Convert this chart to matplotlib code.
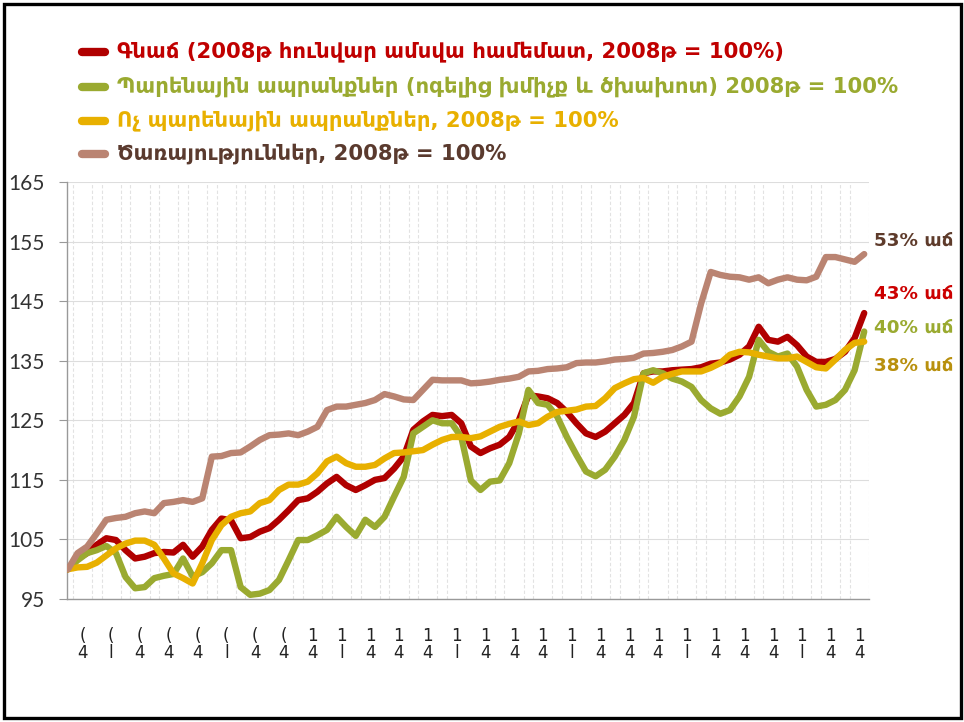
import matplotlib
matplotlib.use("Agg")
import matplotlib.pyplot as plt
from matplotlib.lines import Line2D
from matplotlib.patches import Rectangle
import numpy as np

# monthly indices, January 2008 = 100
total = [100.0, 101.8, 102.7, 104.1, 105.2, 104.9, 103.2, 101.8, 102.1, 102.7,
         102.9, 102.8, 104.1, 102.1, 103.8, 106.6, 108.5, 108.2, 105.2, 105.4,
         106.3, 106.9, 108.3, 109.9, 111.6, 111.9, 113.0, 114.4, 115.5, 114.1,
         113.3, 114.1, 115.0, 115.3, 116.9, 118.9, 123.4, 124.8, 125.9, 125.7,
         125.9, 124.5, 120.6, 119.5, 120.3, 120.9, 122.2, 125.0, 129.2, 129.0,
         128.7, 127.9, 126.4, 124.5, 122.8, 122.2, 123.1, 124.5, 125.9, 127.9,
         132.9, 133.2, 133.2, 133.4, 133.5, 133.6, 133.9, 134.5, 134.7, 135.2,
         136.0, 137.4, 140.7, 138.5, 138.2, 139.0, 137.6, 135.7, 134.8, 134.8,
         135.3, 136.5, 138.8, 143.0]
food = [100.0, 101.5, 102.7, 103.2, 103.9, 102.7, 98.7, 96.8, 97.0, 98.5,
        98.9, 99.2, 101.8, 98.8, 99.5, 101.0, 103.2, 103.2, 97.0, 95.7,
        95.9, 96.5, 98.2, 101.5, 104.9, 104.9, 105.7, 106.6, 108.8, 107.1,
        105.6, 108.3, 107.1, 108.8, 112.2, 115.5, 122.8, 123.9, 125.0, 124.5,
        124.5, 122.2, 114.9, 113.3, 114.7, 114.9, 117.8, 122.8, 130.1, 127.9,
        127.6, 125.6, 122.2, 119.2, 116.4, 115.6, 116.7, 118.9, 121.7, 125.6,
        132.9, 133.4, 132.9, 132.0, 131.5, 130.6, 128.4, 127.0, 126.1, 126.7,
        129.0, 132.3, 138.5, 136.5, 135.7, 136.2, 134.0, 130.1, 127.3, 127.6,
        128.4, 130.1, 133.4, 139.9]
nonfood = [100.0, 100.3, 100.4, 101.1, 102.3, 103.5, 104.3, 104.8, 104.8, 104.1,
           101.8, 99.3, 98.5, 97.6, 101.0, 104.9, 107.4, 108.8, 109.4, 109.7,
           111.1, 111.6, 113.3, 114.2, 114.2, 114.7, 116.1, 118.1, 118.9, 117.8,
           117.2, 117.2, 117.5, 118.6, 119.5, 119.6, 119.8, 120.0, 120.9, 121.7,
           122.2, 122.2, 122.0, 122.3, 123.1, 123.9, 124.4, 124.8, 124.2, 124.5,
           125.6, 126.4, 126.6, 126.8, 127.3, 127.4, 128.7, 130.4, 131.2, 131.9,
           132.1, 131.3, 132.3, 132.8, 133.2, 133.2, 133.2, 133.8, 134.6, 136.0,
           136.5, 136.4, 136.0, 135.7, 135.4, 135.4, 135.7, 134.8, 133.9, 133.7,
           135.2, 136.8, 138.0, 138.2]
services = [100.0, 102.7, 103.8, 106.0, 108.3, 108.6, 108.8, 109.4, 109.7, 109.4,
            111.1, 111.3, 111.6, 111.3, 111.9, 118.9, 119.0, 119.5, 119.6, 120.6,
            121.7, 122.5, 122.6, 122.8, 122.5, 123.1, 123.9, 126.7, 127.3, 127.3,
            127.6, 127.9, 128.4, 129.4, 129.0, 128.5, 128.4, 130.1, 131.8, 131.7,
            131.7, 131.7, 131.2, 131.3, 131.5, 131.8, 132.0, 132.3, 133.2, 133.3,
            133.6, 133.7, 133.9, 134.6, 134.7, 134.7, 134.9, 135.2, 135.3, 135.5,
            136.2, 136.3, 136.5, 136.8, 137.4, 138.2, 144.6, 149.9, 149.4, 149.1,
            149.0, 148.6, 149.0, 148.0, 148.6, 149.0, 148.6, 148.5, 149.1, 152.4,
            152.4, 152.0, 151.6, 152.9]

series_labels = [
    'Գնաճ (2008թ հունվար ամսվա համեմատ, 2008թ = 100%)',
    'Պարենային ապրանքներ (ոգելից խմիչք և ծխախոտ) 2008թ = 100%',
    'Ոչ պարենային ապրանքներ, 2008թ = 100%',
    'Ծառայություններ, 2008թ = 100%',
]
growth_labels = ['43% աճ', '40% աճ', '38% աճ', '53% աճ']
# clipped quarterly category labels as they show under the axis
tick_top = ['('] * 8 + ['1'] * 20
tick_bottom = ['4', 'l', '4', '4'] * 7

line_colors = ['#B00000', '#9AAA30', '#E8B000', '#BA8472']
text_colors = ['#C00000', '#9AAA30', '#E8B000', '#5A3A2E']
growth_colors = ['#CC0000', '#9AAA30', '#B8900E', '#5E3B2B']

fig = plt.figure(figsize=(9.64, 7.22), dpi=100)
ax = fig.add_axes([67 / 964, 1 - 599 / 722, 802 / 964, 417 / 722])

x = np.arange(len(total))
all_series = [total, food, nonfood, services]
for vals, c in zip(all_series, line_colors):
    ax.plot(x, vals, color=c, lw=4.6, solid_joinstyle='round',
            solid_capstyle='round', zorder=3)

ax.set_xlim(-0.1, 83.5)
ax.set_ylim(95, 165)
ax.set_yticks(np.arange(95, 166, 10))
ax.tick_params(axis='y', length=6, width=0.8, color='#999999', pad=10,
               labelsize=15, labelcolor='#333333')
for lab in ax.get_yticklabels():
    lab.set_fontfamily('Lato')

ax.set_xticks(np.arange(1.5, 84, 3))
ax.set_xticklabels([t + '\n' + b for t, b in zip(tick_top, tick_bottom)],
                   fontsize=12, linespacing=0.95)
ax.tick_params(axis='x', length=0, pad=20, labelcolor='#222222')

ax.set_xticks(np.arange(0.5, 84, 1), minor=True)
ax.tick_params(axis='x', which='minor', length=0)
ax.grid(axis='x', which='minor', color='#E2E2E2', lw=0.8, ls=(0, (3, 2)))
ax.grid(axis='y', which='major', color='#DDDDDD', lw=0.8)
ax.set_axisbelow(True)

for side in ['top', 'right']:
    ax.spines[side].set_visible(False)
for side in ['left', 'bottom']:
    ax.spines[side].set_color('#999999')
    ax.spines[side].set_linewidth(1.0)

# legend at the top
rows_y = [52, 87, 121, 154]
for lab, lc, tc, py in zip(series_labels, line_colors, text_colors, rows_y):
    yf = 1 - py / 722
    fig.add_artist(Line2D([82 / 964, 105 / 964], [yf, yf], transform=fig.transFigure,
                          color=lc, lw=6, solid_capstyle='round'))
    fig.text(117 / 964, yf, lab, color=tc, fontsize=15.2, fontweight='bold',
             va='center', ha='left', family='DejaVu Sans')

# growth labels at the right end
growth_y = [146.2, 140.5, 134.1, 155.1]
for lab, c, gy in zip(growth_labels, growth_colors, growth_y):
    ax.text(1.006, gy, lab, transform=ax.get_yaxis_transform(), color=c,
            fontsize=13.2, fontweight='bold', va='center', ha='left',
            family='DejaVu Sans')

fig.add_artist(Rectangle((3.5 / 964, 4 / 722), 957.5 / 964, 714 / 722,
                         transform=fig.transFigure, fill=False, ec='black', lw=2.4))

fig.savefig('out.png', dpi=100)
